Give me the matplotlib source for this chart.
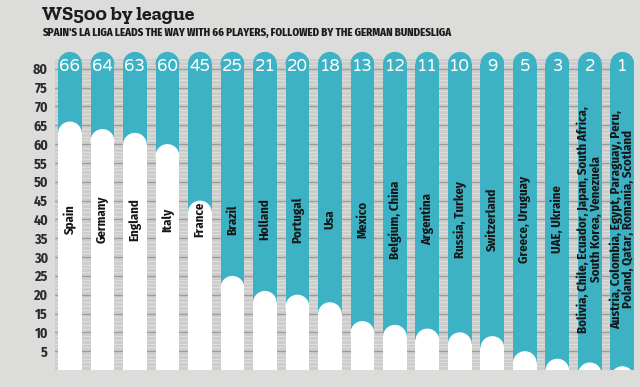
import matplotlib.pyplot as plt
from matplotlib.patches import Rectangle, Ellipse

leagues = [
    "Spain", "Germany", "England", "Italy", "France", "Brazil", "Holland",
    "Portugal", "Usa", "Mexico", "Belgium, China", "Argentina",
    "Russia, Turkey", "Switzerland", "Greece, Uruguay", "UAE, Ukraine",
    "Bolivia, Chile, Ecuador, Japan, South Africa,\nSouth Korea, Venezuela",
    "Austria, Colombia, Egypt, Paraguay, Peru,\nPoland, Qatar, Romania, Scotland",
]
players = [66, 64, 63, 60, 45, 25, 21, 20, 18, 13, 12, 11, 10, 9, 5, 3, 2, 1]
yticks = list(range(5, 85, 5))

TEAL = "#3db2c4"
BG = "#dcdcda"
PANEL = "#cdcdcb"
narrow = ["Fira Sans Condensed", "PT Sans Narrow", "DejaVu Sans"]
rounded = ["Varela Round", "Nunito", "DejaVu Sans"]
slab = ["Zilla Slab", "Roboto Slab", "DejaVu Serif"]

fig = plt.figure(figsize=(6.4, 3.87), dpi=100, facecolor=BG)
ax = fig.add_axes([55 / 640, 17 / 387, 579 / 640, 320 / 387])
ax.set_xlim(-0.46, 17.36)
ax.set_ylim(0, 85)
ax.set_facecolor("none")
for s in ax.spines.values():
    s.set_visible(False)
ax.set_xticks([])
ax.set_yticks(yticks)
ax.tick_params(axis="y", length=0, pad=5)
for lab in ax.get_yticklabels():
    lab.set_fontfamily(narrow)
    lab.set_fontweight("bold")
    lab.set_fontsize(10)
    lab.set_color("#2b2b2b")

# ruler-like panel behind the bars
ax.add_patch(Rectangle((-0.46, 0), 17.82, 82.5, color=PANEL, lw=0, zorder=0))
for y in range(1, 83):
    major = y % 5 == 0
    ax.axhline(y, color="#9c9c9a" if major else "#e4e4e2",
               lw=0.9 if major else 0.5, zorder=1)

w = 0.73
# rounded end: ellipse sized so it looks circular on screen
px_x = 579 / 17.82
px_y = 320 / 85
eh = w * px_x / px_y
top = 84.5

for i, (name, v) in enumerate(zip(leagues, players)):
    ax.add_patch(Rectangle((i - w / 2, 0), w, top - eh / 2, color=TEAL, lw=0, zorder=2))
    ax.add_patch(Ellipse((i, top - eh / 2), w, eh, color=TEAL, lw=0, zorder=2))
    ax.add_patch(Rectangle((i - w / 2, 0), w, max(v - eh / 2, 0), color="white", lw=0, zorder=3))
    ax.add_patch(Ellipse((i, v - eh / 2), w, eh, color="white", lw=0, zorder=3))
    ax.text(i, 80.6, str(v), color="white", fontsize=12, family=rounded,
            ha="center", va="center", zorder=5)
    ax.text(i, 40, name, rotation=90, ha="center", va="center", multialignment="center",
            fontsize=9.2, fontweight="bold", family=narrow, color="#151515",
            linespacing=0.95, zorder=5)

fig.text(42 / 640, 1 - 16 / 387, "WS500 by league", family=slab,
         fontweight="bold", fontsize=14.5, color="#1c1c1c", va="center")
fig.text(42 / 640, 1 - 33 / 387,
         "SPAIN'S LA LIGA LEADS THE WAY WITH 66 PLAYERS, FOLLOWED BY THE GERMAN BUNDESLIGA",
         family=narrow, fontweight="heavy", fontsize=7.8, color="#1c1c1c", va="center")

fig.savefig("out.png", dpi=100, facecolor=BG)
